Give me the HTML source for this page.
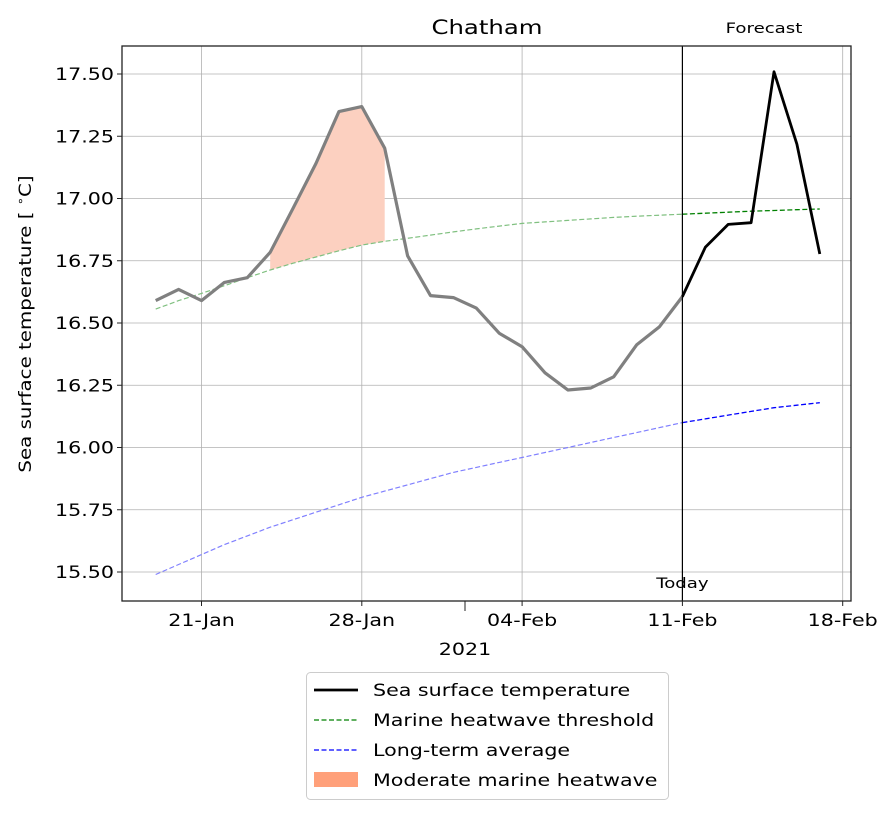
<!DOCTYPE html>
<html><head><meta charset="utf-8"><style>
body{margin:0;background:#fff}
svg{font-family:"DejaVu Sans","Liberation Sans",sans-serif}
</style></head><body>
<svg id="chart" width="894" height="815" viewBox="0 0 894 815" xmlns="http://www.w3.org/2000/svg"></svg>
<script>
const sstValues=[16.590,16.635,16.590,16.663,16.682,16.784,16.961,17.141,17.349,17.369,17.202,16.770,16.610,16.602,16.560,16.459,16.405,16.300,16.231,16.239,16.284,16.412,16.485,16.606,16.804,16.896,16.903,17.509,17.218,16.777];
const thresholdValues=[16.556,16.590,16.619,16.650,16.682,16.713,16.740,16.765,16.790,16.813,16.828,16.840,16.853,16.866,16.878,16.889,16.900,16.906,16.912,16.918,16.924,16.929,16.933,16.937,16.941,16.945,16.949,16.952,16.955,16.958];
const averageValues=[15.49,15.53,15.57,15.61,15.645,15.68,15.71,15.74,15.77,15.80,15.825,15.85,15.875,15.90,15.92,15.94,15.96,15.98,16.00,16.02,16.04,16.06,16.08,16.10,16.115,16.13,16.145,16.16,16.17,16.18];
const yTicks=[15.50,15.75,16.00,16.25,16.50,16.75,17.00,17.25,17.50];
const xTickLabels=["21-Jan","28-Jan","04-Feb","11-Feb","18-Feb"];
const xTickDays=[2,9,16,23,30];
const todayIndex=23;
const heatStart=5, heatEnd=10;

const NS="http://www.w3.org/2000/svg";
const svg=document.getElementById('chart');
const L=122,R=851,T=46,B=601;
const SX=1.25;
function x(d){return 155.7+d*22.9;}
function y(v){return 74+(17.5-v)*249;}
function el(tag,attrs,parent){const e=document.createElementNS(NS,tag);for(const k in attrs)e.setAttribute(k,attrs[k]);(parent||svg).appendChild(e);return e;}
function txt(s,px,py,attrs,parent,rot){const a=Object.assign({x:0,y:0,transform:'translate('+px+','+py+')'+(rot?' rotate(-90)':'')+' scale('+SX+',1)'},attrs);const e=el('text',a,parent);e.textContent=s;return e;}
function pts(arr,a,b){let s=[];for(let i=a;i<=b;i++)s.push(x(i).toFixed(1)+','+y(arr[i]).toFixed(1));return s.join(' ');}

const grid=el('g',{});


yTicks.forEach(v=>{el('line',{x1:L,x2:R,y1:y(v),y2:y(v),stroke:'#b0b0b0','stroke-width':0.8},grid);});
xTickDays.forEach(d=>{el('line',{x1:x(d),x2:x(d),y1:T,y2:B,stroke:'#b0b0b0','stroke-width':0.8},grid);});

let poly=[];
for(let i=heatStart;i<=heatEnd;i++)poly.push(x(i)+','+y(sstValues[i]));
for(let i=heatEnd;i>=heatStart;i--)poly.push(x(i)+','+y(thresholdValues[i]));
const fill=el('polygon',{points:poly.join(' '),fill:'#fcd0c0'});



const th1=el('polyline',{points:pts(thresholdValues,0,todayIndex),fill:'none',stroke:'#80c080','stroke-width':1.2,'stroke-dasharray':'5,2.5'});


const th2=el('polyline',{points:pts(thresholdValues,todayIndex,29),fill:'none',stroke:'#008000','stroke-width':1.3,'stroke-dasharray':'5,2.5'});


const av1=el('polyline',{points:pts(averageValues,0,todayIndex),fill:'none',stroke:'#8080ff','stroke-width':1.2,'stroke-dasharray':'5,2.5'});


const av2=el('polyline',{points:pts(averageValues,todayIndex,29),fill:'none',stroke:'#0000ff','stroke-width':1.3,'stroke-dasharray':'5,2.5'});


const s1=el('polyline',{points:pts(sstValues,0,todayIndex),fill:'none',stroke:'#808080','stroke-width':3.2,'stroke-linejoin':'round'});


const s2=el('polyline',{points:pts(sstValues,todayIndex,29),fill:'none',stroke:'#000','stroke-width':2.8,'stroke-linejoin':'round'});



const tl=el('line',{x1:x(todayIndex),x2:x(todayIndex),y1:T,y2:B,stroke:'#000','stroke-width':1.2});


const tt=txt('Today',x(todayIndex),588,{'text-anchor':'middle','font-size':14.5});


const ft=txt('Forecast',764,33,{'text-anchor':'middle','font-size':14.5});



const fr=el('rect',{x:L,y:T,width:R-L,height:B-T,fill:'none',stroke:'#222','stroke-width':1.3});



yTicks.forEach(v=>{
 el('line',{x1:L-5,x2:L,y1:y(v),y2:y(v),stroke:'#222','stroke-width':1});
 const t=txt(v.toFixed(2),L-8,y(v)+6,{'text-anchor':'end','font-size':16.5});
 
 
});
xTickDays.forEach((d,i)=>{
 el('line',{x1:x(d),x2:x(d),y1:B,y2:B+5,stroke:'#222','stroke-width':1});
 const t=txt(xTickLabels[i],x(d),B+25,{'text-anchor':'middle','font-size':16.5});
 
 
});
el('line',{x1:465,x2:465,y1:B,y2:B+10,stroke:'#222','stroke-width':1});
const yr=txt('2021',465,655,{'text-anchor':'middle','font-size':16.5});



const ylab=el('text',{x:0,y:0,'text-anchor':'middle','font-size':16.5,transform:'translate(31,324) rotate(-90) scale(1.2,1)'});
ylab.innerHTML='Sea surface temperature [ <tspan font-size="11" dy="-7">∘</tspan><tspan dy="7">C]</tspan>';



const title=txt('Chatham',487,34,{'text-anchor':'middle','font-size':19.5});



const lg=el('g',{});


el('rect',{x:306.5,y:672.5,width:362,height:127,rx:4,fill:'#fff',stroke:'#ccc','stroke-width':1},lg);
const items=[['Sea surface temperature','line','#000',2.8,null],['Marine heatwave threshold','line','#008000',1.3,'5,2.5'],['Long-term average','line','#0000ff',1.3,'5,2.5'],['Moderate marine heatwave','patch','#ffa07a']];
items.forEach((it,i)=>{
 const yy=690+i*30;
 const g=el('g',{},lg);
 
 
 if(it[1]==='line'){const a={x1:314,x2:358,y1:yy,y2:yy,stroke:it[2],'stroke-width':it[3]};if(it[4])a['stroke-dasharray']=it[4];el('line',a,g);}
 else el('rect',{x:314,y:yy-8,width:44,height:15,fill:it[2]},g);
 txt(it[0],373,yy+6,{'font-size':16.5},g);
});
</script>
</body></html>
